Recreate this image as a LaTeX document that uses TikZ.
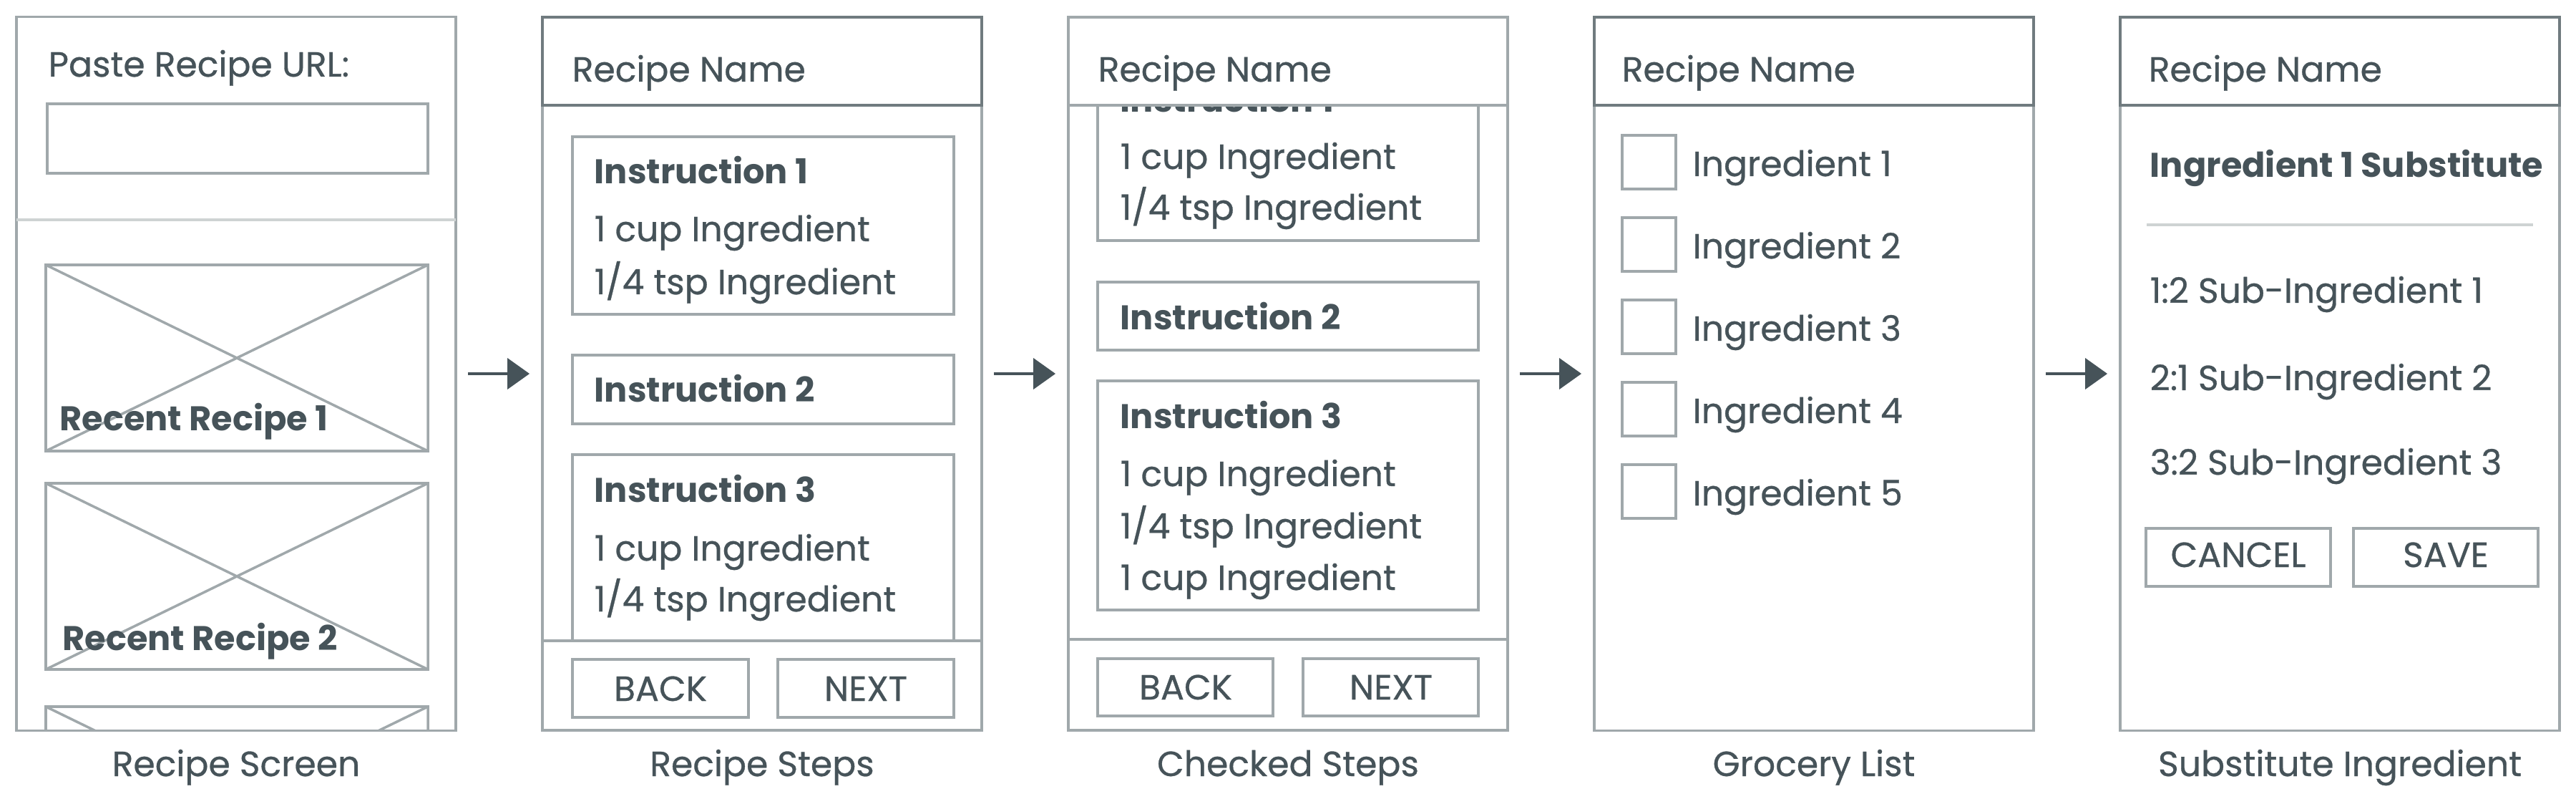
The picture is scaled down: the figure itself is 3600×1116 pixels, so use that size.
\documentclass[tikz,border=0pt]{standalone}
\usepackage{fontspec}
\setmainfont{Poppins}
\newfontfamily\plainface{Poppins}[FakeBold=0.6]
\usetikzlibrary{positioning, arrows.meta}
\definecolor{ink}{RGB}{70,83,89}
\definecolor{frame}{RGB}{160,168,171}
\definecolor{headline}{RGB}{112,123,127}
\definecolor{rule}{RGB}{206,211,211}

\begin{document}
\begin{tikzpicture}[x=0.01cm, y=-0.01cm,
    screen/.style={draw=frame, line width=1pt, minimum width=6.14cm, minimum height=9.96cm, inner sep=0},
    box/.style={draw=frame, line width=1pt},
    lbl/.style={text=ink, font=\plainface\fontsize{13.9}{16}\selectfont, inner sep=0, anchor=base west},
    bold/.style={lbl, font=\normalfont\fontsize{13.6}{16}\selectfont\bfseries},
    btn/.style={lbl, anchor=base},
    screenname/.style={lbl, anchor=base},
    flow/.style={draw=ink, line width=1.2pt, -{Triangle[length=0.31cm, width=0.43cm]}, shorten <=0.15cm, shorten >=0.16cm}]
    \useasboundingbox (0,0) rectangle (3600,1116);

    % Recipe screen
    \begin{scope}[shift={(23,0)}]
        \node[screen] (recipescreen) at (307,522) {};
        \node[lbl] (urllabel) at (44,107) {Paste Recipe URL:};
        \draw[box] (43,145) rectangle (575,242);
        \draw[draw=rule, line width=1pt] (0,307) -- (614,307);
        % image placeholders
        \begin{scope}
            \clip (0,24) rectangle (614,1020);
            \foreach \ytop in {370,675,987} {
                \draw[box] (41,\ytop) rectangle (575,\ytop+260)
                    (41,\ytop) -- (575,\ytop+260) (41,\ytop+260) -- (575,\ytop);
            }
        \end{scope}
        \node[bold] (recent1) at (60,602) {Recent Recipe 1};
        \node[bold] (recent2) at (64,908) {Recent Recipe 2};
        \node[screenname] (name1) at (307,1084) {Recipe Screen};
    \end{scope}

    % Recipe steps
    \begin{scope}[shift={(758,0)}]
        \node[screen] (recipesteps) at (307,522) {};
        \draw[box] (42,191) rectangle (575,439);
        \node[bold] (stepa1) at (72,257) {Instruction 1};
        \node[lbl] (stepa1x) at (72,337) {1 cup Ingredient};
        \node[lbl] (stepa1y) at (72,411) {1/4 tsp Ingredient};
        \draw[box] (42,496) rectangle (575,592);
        \node[bold] (stepa2) at (72,562) {Instruction 2};
        \draw[box] (42,635) rectangle (575,1000);
        \node[bold] (stepa3) at (72,702) {Instruction 3};
        \node[lbl] (stepa3x) at (72,783) {1 cup Ingredient};
        \node[lbl] (stepa3y) at (72,854) {1/4 tsp Ingredient};
        % header and footer
        \draw[box, draw=headline, fill=white] (0,24) rectangle (614,147);
        \node[lbl] (titlea) at (41,114) {Recipe Name};
        \draw[box, fill=white] (0,895) rectangle (614,1020);
        \draw[box] (42,921) rectangle (288,1002);
        \node[btn] (backa) at (165,979) {BACK};
        \draw[box] (329,921) rectangle (575,1002);
        \node[btn] (nexta) at (452,979) {NEXT};
        \node[screenname] (name2) at (307,1084) {Recipe Steps};
    \end{scope}

    % Checked steps
    \begin{scope}[shift={(1493,0)}]
        \node[screen] (checkedsteps) at (307,522) {};
        \draw[box] (41,60) rectangle (573,336);
        \node[bold] (stepb1) at (72,157) {Instruction 1};
        \node[lbl] (stepb1x) at (72,236) {1 cup Ingredient};
        \node[lbl] (stepb1y) at (72,307) {1/4 tsp Ingredient};
        \draw[box] (41,394) rectangle (573,489);
        \node[bold] (stepb2) at (72,461) {Instruction 2};
        \draw[box] (41,532) rectangle (573,852);
        \node[bold] (stepb3) at (72,599) {Instruction 3};
        \node[lbl] (stepb3x) at (72,679) {1 cup Ingredient};
        \node[lbl] (stepb3y) at (72,752) {1/4 tsp Ingredient};
        \node[lbl] (stepb3z) at (72,824) {1 cup Ingredient};
        % header and footer
        \draw[box, fill=white] (0,24) rectangle (614,147);
        \node[lbl] (titleb) at (41,114) {Recipe Name};
        \draw[box, fill=white] (0,893) rectangle (614,1020);
        \draw[box] (41,920) rectangle (286,1000);
        \node[btn] (backb) at (164,977) {BACK};
        \draw[box] (328,920) rectangle (573,1000);
        \node[btn] (nextb) at (451,977) {NEXT};
        \node[screenname] (name3) at (307,1084) {Checked Steps};
    \end{scope}

    % Grocery list
    \begin{scope}[shift={(2228,0)}]
        \node[screen] (grocerylist) at (307,522) {};
        \draw[box, draw=headline] (0,24) rectangle (614,147);
        \node[lbl] (titlec) at (38,114) {Recipe Name};
        \foreach \i in {1,...,5} {
            \draw[box] (39,{189+115*(\i-1)}) rectangle (114,{264+115*(\i-1)});
            \node[lbl] (item\i) at (137,{246+115*(\i-1)}) {Ingredient \i};
        }
        \node[screenname] (name4) at (307,1084) {Grocery List};
    \end{scope}

    % Substitute ingredient
    \begin{scope}[shift={(2963,0)}]
        \node[screen] (substitute) at (307,522) {};
        \draw[box, draw=headline] (0,24) rectangle (614,147);
        \node[lbl] (titled) at (39,114) {Recipe Name};
        \node[bold] (subhead) at (41,248) {Ingredient 1 Substitute};
        \draw[draw=rule, line width=1pt] (37,314) -- (577,314);
        \node[lbl] (sub1) at (41,423) {1:2 Sub-Ingredient 1};
        \node[lbl] (sub2) at (41,545) {2:1 Sub-Ingredient 2};
        \node[lbl] (sub3) at (41,663) {3:2 Sub-Ingredient 3};
        \draw[box] (36,738) rectangle (294,819);
        \node[btn] (cancel) at (165,792) {CANCEL};
        \draw[box] (326,738) rectangle (584,819);
        \node[btn] (save) at (455,792) {SAVE};
        \node[screenname] (name5) at (307,1084) {Substitute Ingredient};
    \end{scope}

    % Flow between screens
    \draw[flow] (recipescreen) -- (recipesteps);
    \draw[flow] (recipesteps) -- (checkedsteps);
    \draw[flow] (checkedsteps) -- (grocerylist);
    \draw[flow] (grocerylist) -- (substitute);
\end{tikzpicture}
\end{document}
